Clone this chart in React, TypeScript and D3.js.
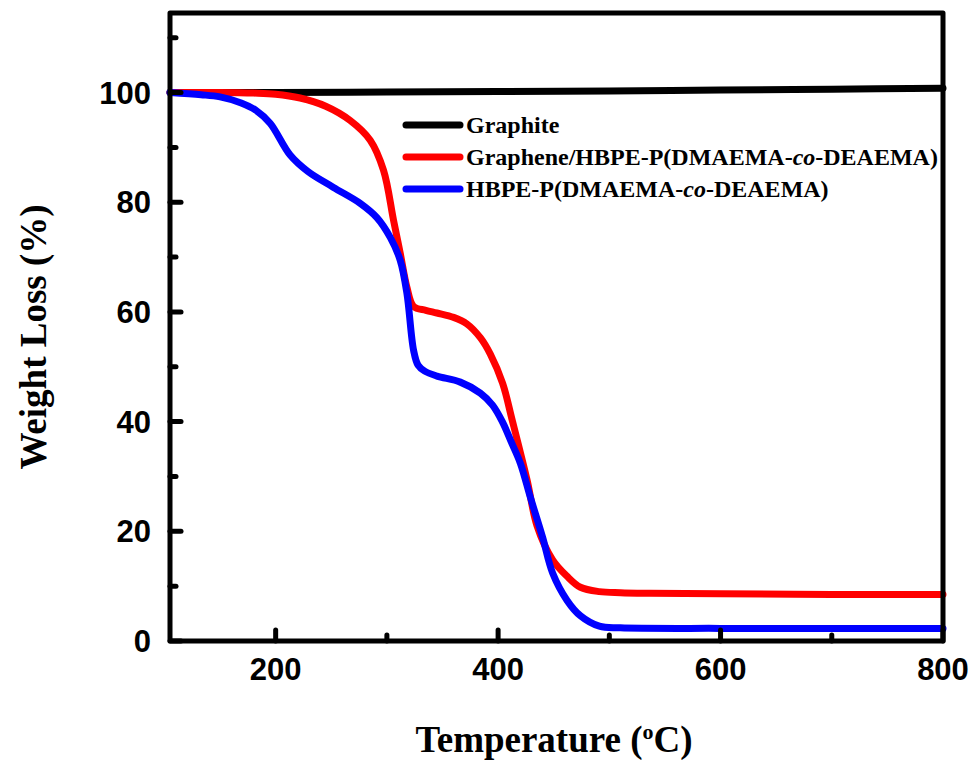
import React from "react";
import * as d3 from "d3";

const graphiteT = [105, 200, 300, 400, 500, 600, 700, 800];
const graphiteW = [100, 100, 100.1, 100.2, 100.3, 100.45, 100.6, 100.8];

const grapheneT = [105, 150, 180, 200, 222, 245, 267, 285, 297, 306, 312, 318, 324, 335, 345, 360, 372, 384, 393, 404, 413, 426, 435, 449, 462, 474, 491, 510, 536, 600, 700, 800];
const grapheneW = [100, 100, 99.9, 99.7, 99, 97.5, 94.9, 91.3, 85.8, 76.7, 70.7, 64.5, 61.0, 60.3, 59.8, 59.0, 57.8, 55.3, 52.3, 47.0, 40.0, 29.4, 21.0, 14.8, 11.8, 9.8, 9.0, 8.8, 8.7, 8.6, 8.5, 8.5];

const hbpeT = [105, 133, 150, 169, 182, 195, 213, 229, 252, 276, 291, 303, 312, 318, 324, 328, 334, 345, 366, 384, 395, 404, 412, 420, 429, 440, 449, 462, 474, 491, 510, 600, 700, 800];
const hbpeW = [100, 99.6, 99.2, 98.1, 96.8, 94.4, 88.6, 85.6, 82.7, 79.8, 77.2, 73.6, 69.4, 63.4, 53.0, 50.3, 49.2, 48.3, 47.2, 45.2, 43.0, 39.9, 36.2, 32.4, 26.2, 18.9, 12.4, 7.4, 4.6, 2.7, 2.4, 2.3, 2.3, 2.3];

const xMajor = [200, 400, 600, 800];
const xMinor = [300, 500, 700];
const yMajor = [0, 20, 40, 60, 80, 100];
const yMinor = [10, 30, 50, 70, 90, 110];

const seriesNames = ["Graphite", "Graphene/HBPE-P(DMAEMA-", "HBPE-P(DMAEMA-"];
const seriesColors = ["#000000", "#ff0000", "#0000ff"];

export default function App() {
  const W = 976, H = 760;
  const left = 170, right = 943, top = 13, bottom = 641;
  const x = d3.scaleLinear().domain([105, 800]).range([left, right]);
  const y = d3.scaleLinear().domain([0, 114.5]).range([bottom, top]);
  const line = d3.line<[number, number]>().x(d => x(d[0])).y(d => y(d[1])).curve(d3.curveCatmullRom.alpha(0.5));
  const mk = (t: number[], w: number[]) => t.map((v, i) => [v, w[i]] as [number, number]);
  const series = [mk(graphiteT, graphiteW), mk(grapheneT, grapheneW), mk(hbpeT, hbpeW)];
  const tickFont = "'Liberation Sans', Arial, sans-serif";
  const serif = "'Liberation Serif', 'Times New Roman', serif";
  const legY = [125, 157, 189];
  return (
    <svg width={W} height={H} style={{ position: "absolute", left: 0, top: 0, background: "#fff" }}>
      <rect width={W} height={H} fill="#fff" />
      {series.map((s, i) => (
        <path key={i} d={line(s) || ""} fill="none" stroke={seriesColors[i]} strokeWidth={7} strokeLinejoin="round" strokeLinecap="round" />
      ))}
      <rect x={left} y={top} width={right - left} height={bottom - top} fill="none" stroke="#000" strokeWidth={5} strokeLinejoin="round" />
      {xMajor.map(t => (
        <g key={"xm" + t}>
          <line x1={x(t)} x2={x(t)} y1={bottom} y2={bottom - 11} stroke="#000" strokeWidth={5} strokeLinecap="round" />
          <text x={x(t)} y={bottom + 39} textAnchor="middle" fontFamily={tickFont} fontWeight="bold" fontSize={31}>{t}</text>
        </g>
      ))}
      {xMinor.map(t => (
        <line key={"xn" + t} x1={x(t)} x2={x(t)} y1={bottom} y2={bottom - 6} stroke="#000" strokeWidth={5} strokeLinecap="round" />
      ))}
      {yMajor.map(t => (
        <g key={"ym" + t}>
          <line x1={left} x2={left + 11} y1={y(t)} y2={y(t)} stroke="#000" strokeWidth={5} strokeLinecap="round" />
          <text x={left - 19} y={y(t) + 11} textAnchor="end" fontFamily={tickFont} fontWeight="bold" fontSize={31}>{t}</text>
        </g>
      ))}
      {yMinor.map(t => (
        <line key={"yn" + t} x1={left} x2={left + 6} y1={y(t)} y2={y(t)} stroke="#000" strokeWidth={5} strokeLinecap="round" />
      ))}
      <text x={554} y={752} textAnchor="middle" fontFamily={serif} fontWeight="bold" fontSize={37}>
        Temperature (<tspan dy={-13} fontSize={22}>o</tspan><tspan dy={13}>C)</tspan>
      </text>
      <text transform={`translate(46, 337) rotate(-90)`} textAnchor="middle" fontFamily={serif} fontWeight="bold" fontSize={37}>Weight Loss (%)</text>
      {seriesNames.map((n, i) => (
        <g key={"lg" + i}>
          <line x1={406} x2={460} y1={legY[i]} y2={legY[i]} stroke={seriesColors[i]} strokeWidth={7} strokeLinecap="round" />
          <text x={466} y={legY[i] + 8} fontFamily={serif} fontWeight="bold" fontSize={24}>
            {n}
            {i > 0 ? <><tspan fontStyle="italic">co</tspan>-DEAEMA)</> : null}
          </text>
        </g>
      ))}
    </svg>
  );
}
